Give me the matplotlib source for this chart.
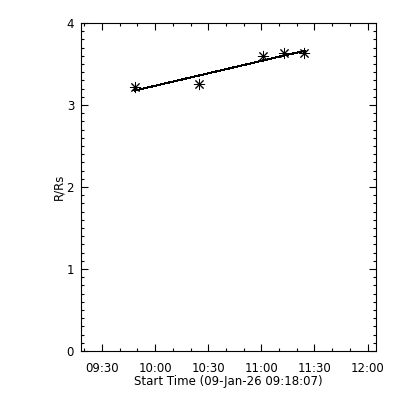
import numpy as np
import matplotlib
matplotlib.use("Agg")
import matplotlib.pyplot as plt
import matplotlib.dates as mdates
from datetime import datetime, timedelta

times = ["2026-01-09 09:48:23", "2026-01-09 10:24:44", "2026-01-09 11:00:43",
         "2026-01-09 11:12:45", "2026-01-09 11:24:22"]
heights = [3.22, 3.26, 3.60, 3.63, 3.63]
start = "2026-01-09 09:18:07"

t = [datetime.strptime(s, "%Y-%m-%d %H:%M:%S") for s in times]
t0 = datetime.strptime(start, "%Y-%m-%d %H:%M:%S")
tn = mdates.date2num(t)

# linear fit, drawn from first to last point
p = np.polyfit(tn, heights, 1)
fx = np.array([tn[0], tn[-1]])

plt.rcParams['font.family'] = ['DejaVu Sans']
fig = plt.figure(figsize=(4, 4), dpi=100)
ax = fig.add_axes([0.2025, 0.1225, 0.7375, 0.82])

ax.plot(fx, np.polyval(p, fx), color='black', lw=0.75, antialiased=False)
ax.plot(tn, heights, ls='none', marker=(8, 2, 0), ms=8, mew=0.7,
        color='black', antialiased=False)

ax.set_xlim(mdates.date2num(t0), mdates.date2num(t0 + timedelta(seconds=10000)))
ax.set_ylim(0, 4)
ax.xaxis.set_major_locator(mdates.MinuteLocator(byminute=[0, 30]))
ax.xaxis.set_minor_locator(mdates.MinuteLocator(byminute=[10, 20, 40, 50]))
ax.xaxis.set_major_formatter(mdates.DateFormatter("%H:%M"))
ax.set_yticks([0, 1, 2, 3, 4])
ax.set_yticks(np.arange(0, 4.01, 0.1), minor=True)

ax.tick_params(which='both', direction='in', top=True, right=True,
               labelsize=8.5, color='black', width=0.8)
ax.tick_params(which='major', length=5, pad=5)
ax.tick_params(which='minor', length=2.5)
ax.tick_params(axis='x', which='major', pad=8)
for s in ax.spines.values():
    s.set_linewidth(0.8)

ax.set_xlabel("Start Time (09-Jan-26 09:18:07)", fontsize=8.5, labelpad=0)
ax.set_ylabel("R/Rs", fontsize=8.5, labelpad=1)

fig.savefig("out.png", dpi=100)
